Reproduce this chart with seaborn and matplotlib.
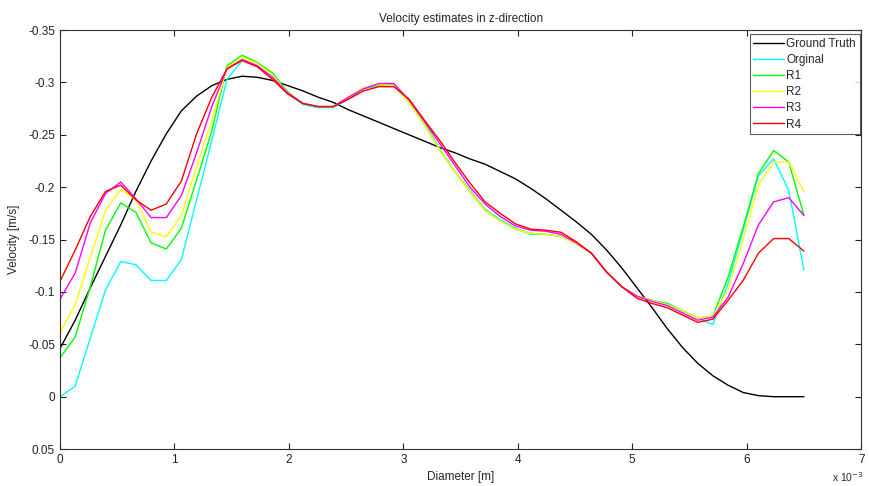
import pandas as pd
import matplotlib.pyplot as plt
import seaborn as sns
from matplotlib.ticker import FuncFormatter

# Style: plain white axes, MATLAB-like look
sns.set_style("ticks")
plt.rcParams['font.family'] = ['Liberation Sans', 'DejaVu Sans']
plt.rcParams['font.size'] = 8.5

# Diameter positions (in units of 1e-3 m)
diameter = [0.000, 0.133, 0.265, 0.398, 0.531, 0.663, 0.796, 0.929, 1.061, 1.194,
            1.327, 1.459, 1.592, 1.724, 1.857, 1.990, 2.122, 2.255, 2.388, 2.520,
            2.653, 2.786, 2.918, 3.051, 3.184, 3.316, 3.449, 3.582, 3.714, 3.847,
            3.980, 4.112, 4.245, 4.378, 4.510, 4.643, 4.776, 4.908, 5.041, 5.173,
            5.306, 5.439, 5.571, 5.704, 5.837, 5.969, 6.102, 6.235, 6.367, 6.500]

ground_truth = [-0.046, -0.073, -0.104, -0.134, -0.164, -0.196, -0.225, -0.251, -0.273, -0.287,
                -0.297, -0.303, -0.306, -0.305, -0.302, -0.297, -0.292, -0.286, -0.281, -0.274,
                -0.268, -0.262, -0.256, -0.250, -0.244, -0.238, -0.233, -0.227, -0.222, -0.215,
                -0.208, -0.199, -0.189, -0.178, -0.167, -0.155, -0.140, -0.123, -0.104, -0.085,
                -0.065, -0.047, -0.032, -0.020, -0.011, -0.004, -0.001, 0.000, 0.000, 0.000]

original = [0.000, -0.010, -0.056, -0.102, -0.129, -0.126, -0.111, -0.111, -0.131, -0.188,
            -0.245, -0.303, -0.321, -0.316, -0.305, -0.290, -0.279, -0.276, -0.276, -0.284,
            -0.294, -0.297, -0.298, -0.282, -0.262, -0.237, -0.215, -0.197, -0.179, -0.169,
            -0.161, -0.155, -0.155, -0.153, -0.147, -0.137, -0.119, -0.105, -0.096, -0.092,
            -0.089, -0.082, -0.075, -0.069, -0.108, -0.159, -0.211, -0.227, -0.197, -0.121]

r1 = [-0.037, -0.057, -0.105, -0.159, -0.185, -0.176, -0.147, -0.141, -0.161, -0.207,
      -0.254, -0.316, -0.326, -0.319, -0.309, -0.291, -0.280, -0.277, -0.277, -0.285,
      -0.295, -0.297, -0.297, -0.281, -0.260, -0.236, -0.215, -0.196, -0.178, -0.168,
      -0.160, -0.156, -0.155, -0.153, -0.146, -0.137, -0.119, -0.105, -0.096, -0.092,
      -0.089, -0.082, -0.075, -0.077, -0.114, -0.162, -0.213, -0.235, -0.224, -0.173]

r2 = [-0.061, -0.088, -0.133, -0.178, -0.198, -0.188, -0.157, -0.153, -0.173, -0.220,
      -0.264, -0.314, -0.324, -0.318, -0.307, -0.290, -0.280, -0.277, -0.277, -0.286,
      -0.295, -0.298, -0.297, -0.281, -0.260, -0.236, -0.215, -0.196, -0.178, -0.168,
      -0.160, -0.156, -0.155, -0.153, -0.146, -0.137, -0.119, -0.105, -0.096, -0.092,
      -0.088, -0.082, -0.075, -0.077, -0.102, -0.150, -0.202, -0.224, -0.224, -0.196]

r3 = [-0.093, -0.118, -0.166, -0.194, -0.205, -0.189, -0.171, -0.171, -0.192, -0.233,
      -0.277, -0.313, -0.322, -0.316, -0.305, -0.290, -0.280, -0.277, -0.277, -0.286,
      -0.294, -0.299, -0.299, -0.283, -0.263, -0.242, -0.221, -0.200, -0.184, -0.172,
      -0.163, -0.159, -0.158, -0.155, -0.147, -0.137, -0.119, -0.105, -0.096, -0.091,
      -0.087, -0.080, -0.073, -0.076, -0.095, -0.127, -0.164, -0.186, -0.190, -0.173]

r4 = [-0.110, -0.140, -0.172, -0.196, -0.202, -0.188, -0.178, -0.184, -0.206, -0.251,
      -0.286, -0.313, -0.321, -0.315, -0.303, -0.289, -0.280, -0.277, -0.277, -0.284,
      -0.292, -0.296, -0.296, -0.284, -0.264, -0.245, -0.224, -0.204, -0.186, -0.175,
      -0.165, -0.160, -0.159, -0.157, -0.148, -0.137, -0.119, -0.105, -0.094, -0.089,
      -0.085, -0.078, -0.071, -0.074, -0.092, -0.111, -0.137, -0.151, -0.151, -0.139]

series_names = ['Ground Truth', 'Orginal', 'R1', 'R2', 'R3', 'R4']
series_values = [ground_truth, original, r1, r2, r3, r4]
colors = ['#000000', '#00FFFF', '#00FF00', '#FFFF00', '#FF00FF', '#FF0000']

y_ticks = [-0.35, -0.3, -0.25, -0.2, -0.15, -0.1, -0.05, 0, 0.05]
x_ticks = [0, 1, 2, 3, 4, 5, 6, 7]

# Long-form table for seaborn
df = pd.concat([pd.DataFrame({'diameter': diameter, 'velocity': vals, 'series': name})
                for name, vals in zip(series_names, series_values)], ignore_index=True)

fig = plt.figure(figsize=(8.69, 4.86), dpi=100)
ax = fig.add_axes([0.069, 0.076, 0.922, 0.862])

sns.lineplot(data=df, x='diameter', y='velocity', hue='series',
             hue_order=series_names, palette=dict(zip(series_names, colors)),
             estimator=None, sort=False, linewidth=1.0, ax=ax)

# Axes: inverted y, MATLAB-style box with inward ticks
ax.set_xlim(0, 7)
ax.set_ylim(0.05, -0.35)
ax.set_xticks(x_ticks)
ax.set_yticks(y_ticks)
ax.yaxis.set_major_formatter(FuncFormatter(lambda v, p: '%g' % round(v, 2)))
ax.tick_params(direction='in', top=True, right=True, length=4, width=0.8,
               labelsize=8.5, colors='#222222')
for spine in ax.spines.values():
    spine.set_visible(True)
    spine.set_linewidth(0.8)
    spine.set_color('#333333')

ax.set_xlabel('Diameter [m]', fontsize=8.5, labelpad=4)
ax.set_ylabel('Velocity [m/s]', fontsize=8.5, labelpad=6)
ax.set_title('Velocity estimates in z-direction', fontsize=8.5, pad=6)

# Axis multiplier, placed under the last tick label
fig.text(0.957, 0.004, r'x 10$^{-3}$', fontsize=7.5, ha='left', va='bottom')

# Legend in the top right corner
leg = ax.legend(loc='upper right', bbox_to_anchor=(0.998, 0.99), fontsize=8.5,
                frameon=True, fancybox=False, edgecolor='#333333',
                handlelength=2.6, handletextpad=0.2, labelspacing=0.35,
                borderpad=0.3, borderaxespad=0.0)
leg.get_frame().set_linewidth(0.8)

plt.savefig('out.png', dpi=100, facecolor='white')
plt.close()
print("Saved out.png")
